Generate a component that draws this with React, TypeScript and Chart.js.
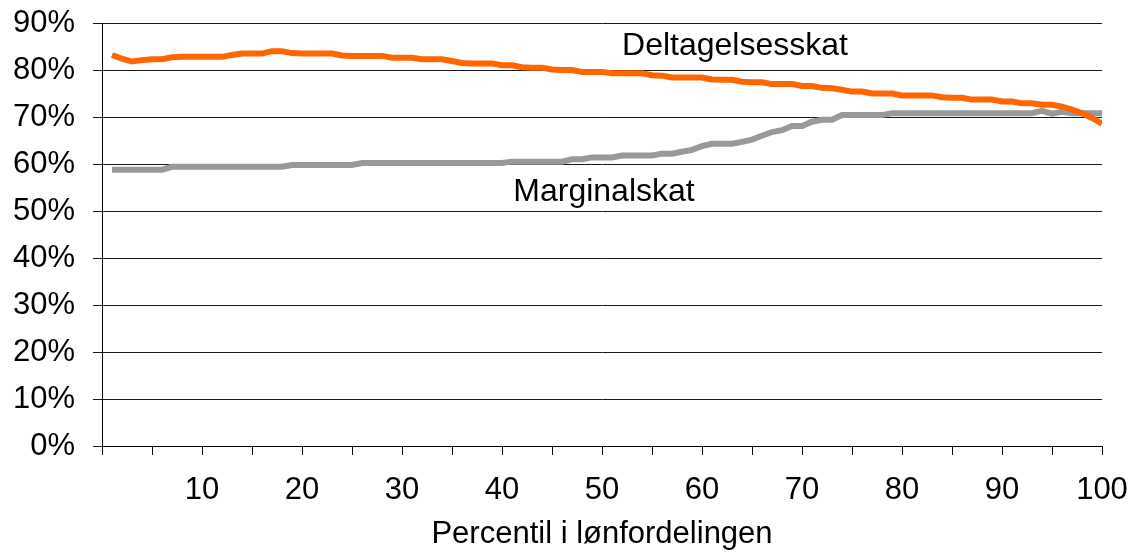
import React, { useEffect, useRef } from "react";
import { Chart, registerables } from "chart.js";

Chart.register(...registerables);

const percentiles: number[] = Array.from({ length: 100 }, (_, i) => i + 1);

const deltagelsesskat: number[] = [
  83.2, 82.4, 81.8, 82.1, 82.3, 82.3, 82.7, 82.8, 82.8, 82.8,
  82.8, 82.8, 83.2, 83.5, 83.5, 83.5, 84.0, 84.0, 83.6, 83.5,
  83.5, 83.5, 83.5, 83.1, 83.0, 83.0, 83.0, 83.0, 82.6, 82.6,
  82.6, 82.3, 82.3, 82.3, 81.9, 81.5, 81.4, 81.4, 81.4, 81.0,
  81.0, 80.6, 80.5, 80.5, 80.1, 80.0, 80.0, 79.6, 79.6, 79.6,
  79.3, 79.3, 79.3, 79.3, 78.9, 78.8, 78.4, 78.4, 78.4, 78.4,
  78.0, 77.9, 77.9, 77.5, 77.4, 77.4, 77.0, 77.0, 77.0, 76.6,
  76.6, 76.2, 76.1, 75.8, 75.4, 75.4, 75.0, 75.0, 75.0, 74.6,
  74.6, 74.6, 74.6, 74.2, 74.1, 74.1, 73.7, 73.7, 73.7, 73.3,
  73.3, 72.9, 72.9, 72.6, 72.6, 72.2, 71.6, 70.8, 69.8, 68.6,
];

const marginalskat: number[] = [
  58.8, 58.8, 58.8, 58.8, 58.8, 58.8, 59.4, 59.4, 59.4, 59.4,
  59.4, 59.4, 59.4, 59.4, 59.4, 59.4, 59.4, 59.4, 59.8, 59.8,
  59.8, 59.8, 59.8, 59.8, 59.8, 60.2, 60.2, 60.2, 60.2, 60.2,
  60.2, 60.2, 60.2, 60.2, 60.2, 60.2, 60.2, 60.2, 60.2, 60.2,
  60.5, 60.5, 60.5, 60.5, 60.5, 60.5, 61.0, 61.0, 61.4, 61.4,
  61.4, 61.8, 61.8, 61.8, 61.8, 62.2, 62.2, 62.6, 63.0, 63.8,
  64.3, 64.3, 64.3, 64.7, 65.2, 66.0, 66.8, 67.2, 68.1, 68.1,
  69.0, 69.4, 69.4, 70.4, 70.4, 70.4, 70.4, 70.4, 70.8, 70.8,
  70.8, 70.8, 70.8, 70.8, 70.8, 70.8, 70.8, 70.8, 70.8, 70.8,
  70.8, 70.8, 70.8, 71.3, 70.7, 71.1, 70.8, 70.8, 70.8, 70.8,
];

const seriesNames: string[] = ["Deltagelsesskat", "Marginalskat"];
// label anchor points in data coordinates [percentile, value]
const labelAnchors: [number, number][] = [
  [63.3, 85.0],
  [50.2, 53.9],
];
const xTitle = "Percentil i lønfordelingen";

const FONT = "'Liberation Sans', Arial, Helvetica, sans-serif";
const FONT_SIZE = 31;

const zeroPadding = (scale: any) => {
  scale.paddingTop = 0;
  scale.paddingBottom = 0;
  scale.paddingLeft = 0;
  scale.paddingRight = 0;
};

export default function App() {
  const canvasRef = useRef<HTMLCanvasElement | null>(null);

  useEffect(() => {
    if (!canvasRef.current) return;

    const labelPlugin = {
      id: "seriesLabels",
      afterDatasetsDraw(chart: any) {
        const { ctx, scales } = chart;
        ctx.save();
        ctx.font = `32px ${FONT}`;
        ctx.fillStyle = "#000";
        ctx.textAlign = "center";
        ctx.textBaseline = "middle";
        seriesNames.forEach((name, i) => {
          const [px, py] = labelAnchors[i];
          ctx.fillText(name, scales.x.getPixelForValue(px), scales.y.getPixelForValue(py));
        });
        ctx.restore();
      },
    };

    const chart = new Chart(canvasRef.current, {
      type: "line",
      data: {
        datasets: [
          {
            label: seriesNames[0],
            data: percentiles.map((p, i) => ({ x: p, y: deltagelsesskat[i] })),
            borderColor: "#FF6600",
            borderWidth: 6,
            pointRadius: 0,
            tension: 0,
            fill: false,
          },
          {
            label: seriesNames[1],
            data: percentiles.map((p, i) => ({ x: p, y: marginalskat[i] })),
            borderColor: "#999999",
            borderWidth: 6,
            pointRadius: 0,
            tension: 0,
            fill: false,
          },
        ],
      },
      options: {
        animation: false,
        responsive: true,
        maintainAspectRatio: false,
        layout: { padding: { top: 23, right: 32, bottom: 0, left: 0 } },
        plugins: {
          legend: { display: false },
          tooltip: { enabled: false },
        },
        scales: {
          x: {
            type: "linear",
            min: 0,
            max: 100,
            afterFit: (scale: any) => {
              scale.height = 107;
              zeroPadding(scale);
            },
            ticks: {
              stepSize: 5,
              autoSkip: false,
              maxRotation: 0,
              padding: 17,
              color: "#000",
              font: { family: FONT, size: FONT_SIZE },
              callback: (v: any) => (v % 10 === 0 && v !== 0 ? String(v) : ""),
            },
            grid: {
              drawOnChartArea: false,
              drawTicks: true,
              tickLength: 9,
              color: "#000",
            },
            border: { color: "#000", width: 1 },
            title: {
              display: true,
              text: xTitle,
              color: "#000",
              font: { family: FONT, size: FONT_SIZE },
              padding: { top: 0, bottom: 0 },
            },
          },
          y: {
            min: 0,
            max: 90,
            afterFit: (scale: any) => {
              scale.width = 102;
              zeroPadding(scale);
            },
            ticks: {
              stepSize: 10,
              padding: 18,
              color: "#000",
              font: { family: FONT, size: FONT_SIZE },
              callback: (v: any) => `${v}%`,
            },
            grid: {
              color: "#1a1a1a",
              lineWidth: 1,
              tickLength: 9,
            },
            border: { color: "#000", width: 1 },
          },
        },
      },
      plugins: [labelPlugin],
    });

    return () => chart.destroy();
  }, []);

  return (
    <div style={{ position: "absolute", left: 0, top: 0, width: 1134, height: 553, background: "#fff" }}>
      <canvas ref={canvasRef} />
    </div>
  );
}
